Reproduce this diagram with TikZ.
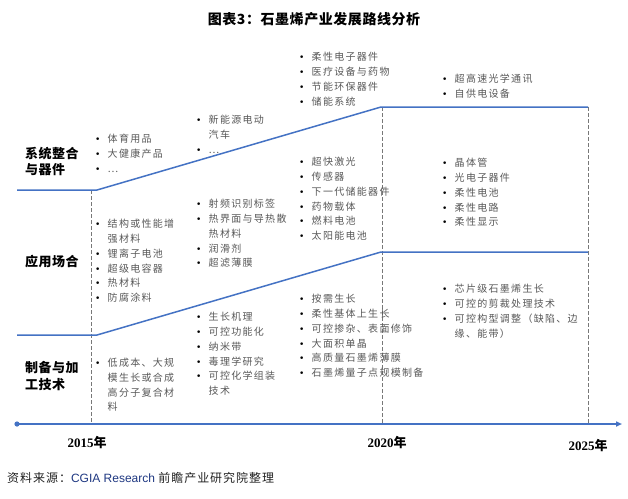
\documentclass[tikz,border=0pt]{standalone}
\usepackage{fontspec}
\setmainfont{Noto Sans CJK SC}
\newfontfamily\bodyf[LetterSpace=13]{Noto Sans CJK SC}
\newfontfamily\labf[LetterSpace=4]{Noto Sans CJK SC}
\newfontfamily\dvf{DejaVu Sans}
\newfontfamily\serf{Liberation Serif}
\newfontfamily\arf{Liberation Sans}
\newfontfamily\srcf[LetterSpace=8]{Noto Sans CJK SC}
\usetikzlibrary{arrows.meta}
\definecolor{lineblue}{RGB}{68,114,196}
\definecolor{txtgray}{RGB}{89,89,89}
\definecolor{dashgray}{RGB}{120,120,120}
\definecolor{srcblue}{RGB}{31,56,130}
\definecolor{srcblack}{RGB}{34,34,34}
\newcommand\bul{{\color{black}\dvf\fontsize{9}{9}\selectfont •}}
\newcommand\bi[1]{\makebox[12.5pt][l]{\bul}#1}
\newcommand\ci[1]{\hspace*{12.5pt}#1}
\begin{document}
\begin{tikzpicture}[x=1pt,y=-1pt,
 lst/.style={anchor=north west,inner sep=0pt,align=left,font=\bodyf\fontsize{10}{14.7}\selectfont,text=txtgray},
 rowlab/.style={anchor=west,inner sep=0pt,align=left,font=\labf\bfseries\fontsize{13}{16.5}\selectfont},
 blueline/.style={draw=lineblue,line width=1.5pt,line join=round},
 guide/.style={draw=dashgray,line width=0.6pt,dash pattern=on 4pt off 2pt},
 yr/.style={inner sep=0pt,font=\bfseries\fontsize{13}{13}\selectfont}]
\useasboundingbox[fill=white] (0,0) rectangle (628,498);

% title
\node[inner sep=0pt,font=\labf\bfseries\fontsize{14}{14}\selectfont] (title) at (314,19) {图表3：石墨烯产业发展路线分析};

% coordinates
\coordinate (t0) at (17,190); \coordinate (t1) at (97,190); \coordinate (t2) at (381,107); \coordinate (t3) at (588,107);
\coordinate (m0) at (17,335); \coordinate (m1) at (97,335); \coordinate (m2) at (381,252); \coordinate (m3) at (588,252);
\coordinate (ax0) at (17,424); \coordinate (ax1) at (622,424);
\coordinate (d1a) at (91,190); \coordinate (d1b) at (91,424);
\coordinate (d2a) at (382,107); \coordinate (d2b) at (382,424);
\coordinate (d3a) at (588,107); \coordinate (d3b) at (588,424);

% dashed guides
\draw[guide] (d1a) -- (d1b);
\draw[guide] (d2a) -- (d2b);
\draw[guide] (d3a) -- (d3b);

% blue lines
\draw[blueline] (t0) -- (t1) -- (t2) -- (t3);
\draw[blueline] (m0) -- (m1) -- (m2) -- (m3);
\draw[draw=lineblue,line width=1.8pt,-{Triangle[length=6pt,width=5pt]}] (ax0) -- (ax1);
\fill[lineblue] (ax0) circle (2.6pt);

% row labels
\node[rowlab] (lab1) at (25,161.5) {系统整合\\与器件};
\node[rowlab] (lab2) at (25,262) {应用场合};
\node[rowlab] (lab3) at (25,376) {制备与加\\工技术};

% column 1
\node[lst] (c1t) at (95,134.3) {\bi{体育用品}\\\bi{大健康产品}\\\bi{…}};
\node[lst] (c1m) at (95,219.3) {\bi{结构或性能增}\\\ci{强材料}\\\bi{锂离子电池}\\\bi{超级电容器}\\\bi{热材料}\\\bi{防腐涂料}};
\node[lst] (c1b) at (95,358.3) {\bi{低成本、大规}\\\ci{模生长或合成}\\\ci{高分子复合材}\\\ci{料}};

% column 2
\node[lst] (c2t) at (196,115.3) {\bi{新能源电动}\\\ci{汽车}\\\bi{…}};
\node[lst] (c2m) at (196,199.3) {\bi{射频识别标签}\\\bi{热界面与导热散}\\\ci{热材料}\\\bi{润滑剂}\\\bi{超滤薄膜}};
\node[lst] (c2b) at (196,312.3) {\bi{生长机理}\\\bi{可控功能化}\\\bi{纳米带}\\\bi{毒理学研究}\\\bi{可控化学组装}\\\ci{技术}};

% column 3
\node[lst] (c3t) at (299,52.3) {\bi{柔性电子器件}\\\bi{医疗设备与药物}\\\bi{节能环保器件}\\\bi{储能系统}};
\node[lst] (c3m) at (299,157.3) {\bi{超快激光}\\\bi{传感器}\\\bi{下一代储能器件}\\\bi{药物载体}\\\bi{燃料电池}\\\bi{太阳能电池}};
\node[lst] (c3b) at (299,294.3) {\bi{按需生长}\\\bi{柔性基体上生长}\\\bi{可控掺杂、表面修饰}\\\bi{大面积单晶}\\\bi{高质量石墨烯薄膜}\\\bi{石墨烯量子点规模制备}};

% column 4
\node[lst] (c4t) at (442,74.3) {\bi{超高速光学通讯}\\\bi{自供电设备}};
\node[lst] (c4m) at (442,158.3) {\bi{晶体管}\\\bi{光电子器件}\\\bi{柔性电池}\\\bi{柔性电路}\\\bi{柔性显示}};
\node[lst] (c4b) at (442,284.3) {\bi{芯片级石墨烯生长}\\\bi{可控的剪裁处理技术}\\\bi{可控构型调整（缺陷、边}\\\ci{缘、能带）}};

% years
\node[yr] (y1) at (87,443) {{\serf 2015}年};
\node[yr] (y2) at (387,443) {{\serf 2020}年};
\node[yr] (y3) at (588,446) {{\serf 2025}年};

% source
\node[anchor=west,inner sep=0pt,font=\fontsize{12}{12}\selectfont,text=srcblack] (src) at (7,478) {{\srcf 资料来源：}{\arf\color{srcblue}CGIA Research }{\srcf 前瞻产业研究院整理}};
\end{tikzpicture}
\end{document}
